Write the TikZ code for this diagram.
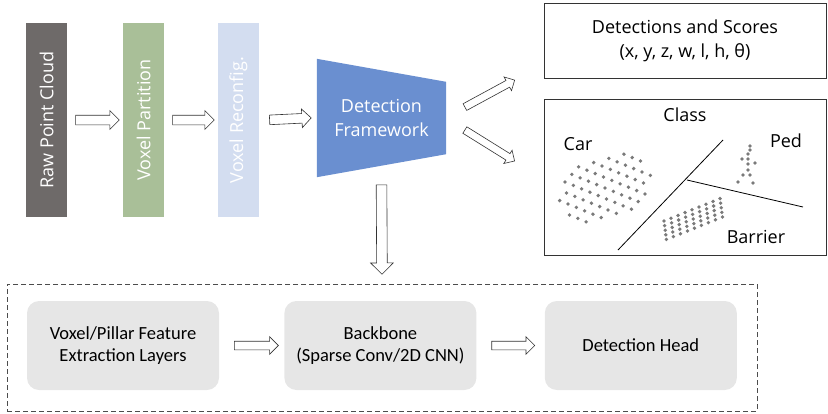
\documentclass[tikz,border=0pt]{standalone}
\usepackage{fontspec}
\setmainfont{Open Sans}
\newfontfamily\stagefont{Carlito}
\usetikzlibrary{positioning,calc,shapes.arrows,backgrounds}
\definecolor{rawCloud}{HTML}{6E6A69}
\definecolor{voxPart}{HTML}{A9BF98}
\definecolor{voxReconf}{HTML}{D3DDF0}
\definecolor{detFrame}{HTML}{6A8FD0}
\definecolor{stageFill}{HTML}{E6E6E6}
\definecolor{pointDot}{HTML}{7A7A7A}
\colorlet{edgeLine}{black!80}

% block arrow between two points
\newcommand\hollowarrow[3][]{%
  \path let \p1=#2, \p2=#3,
    \n1={atan2(\y2-\y1,\x2-\x1)},
    \n2={veclen(\x2-\x1,\y2-\y1)} in
    node[hollow arrow,minimum height=\n2,rotate=\n1,#1] at ($(\p1)!0.5!(\p2)$) {};}

\begin{document}
\begin{tikzpicture}[x=1pt,y=-1pt,
  every node/.style={font=\fontsize{18}{24}\selectfont},
  bar/.style={minimum width=41pt,minimum height=194pt,inner sep=0pt,text=white},
  hollow arrow/.style={single arrow,draw=edgeLine,fill=white,line width=0.6pt,
    inner xsep=0pt,inner ysep=4.5pt,single arrow head extend=4.5pt},
  panel/.style={draw=edgeLine,line width=0.8pt,minimum width=282pt,inner sep=0pt,align=center},
  stage/.style={fill=stageFill,rounded corners=12pt,minimum width=192pt,minimum height=89pt,
    align=center,font=\stagefont\fontsize{18.5}{22}\selectfont},
  dot/.style={fill=pointDot}
]
\useasboundingbox (0,0) rectangle (828,413);

% input stages
\node[bar,fill=rawCloud] (raw) at (46.5,120) {\rotatebox{90}{Raw Point Cloud}};
\node[bar,fill=voxPart] (part) at (143.5,120) {\rotatebox{90}{Voxel Partition}};
\node[bar,fill=voxReconf] (reconf) at (238.5,120) {\rotatebox{90}{Voxel Reconfig.}};

% detection framework
\node[minimum width=129pt,minimum height=118pt,text=white,align=center] (frame) at (381.5,118) {Detection\\Framework};
\begin{scope}[on background layer]
\fill[detFrame] (frame.north west) -- ([yshift=-23pt]frame.north east)
  -- ([yshift=23pt]frame.south east) -- (frame.south west) -- cycle;
\end{scope}

\hollowarrow{([xshift=6pt]raw.east)}{([xshift=-6pt]part.west)}
\hollowarrow{([xshift=6pt]part.east)}{([xshift=-6pt]reconf.west)}
\hollowarrow{([xshift=8pt]reconf.east)}{([xshift=-8pt]frame.west)}

% outputs
\node[panel,minimum height=75pt] (scores) at (685,40.5) {Detections and Scores\\(x, y, z, w, l, h, θ)};
\node[panel,minimum height=156pt] (cls) at (685,177) {};
\coordinate (toScores) at (513,81);
\coordinate (toClass) at (513,160);
\hollowarrow[inner ysep=3.5pt,single arrow head extend=4pt]{([shift={(17pt,10pt)}]frame.east)}{(toScores)}
\hollowarrow[inner ysep=3.5pt,single arrow head extend=4pt]{([shift={(17pt,-11pt)}]frame.east)}{(toClass)}

% class sketch
\node (car) at (578,144) {Car};
\node (class) at (685,115) {Class};
\node (ped) at (786,141) {Ped};
\node (barrier) at (756,237) {Barrier};
\draw[line width=0.8pt] (618,250) -- (723,140);
\draw[line width=0.8pt] (687,180) -- (803,207);
\foreach \i in {-6,...,6}
  \foreach \j in {-6,...,6}{
    \pgfmathsetmacro\s{8.3*\i+6.8*\j}
    \pgfmathsetmacro\t{3.4*\i-7.6*\j+0.25*\s}
    \pgfmathtruncatemacro\keep{(\s*\s/2116+\t*\t/1156)<=1}
    \ifnum\keep=1 \fill[dot] (605+8.3*\i+6.8*\j, 188+3.4*\i-7.6*\j) circle (1.9pt);\fi
  }
\foreach \i in {0,...,8}
  \foreach \j in {0,...,4}
    \fill[dot] (664+7*\i+0.6*\j, 221-2.8*\i+4.6*\j) circle (1.9pt);
\foreach \p in {(750,146),(750,150),(748,154),(742,159),(748,159),(755,163),
                (748,164),(748,170),(743,175),(750,175),(738,182),(753,183)}
  \fill[dot] \p circle (1.9pt);

% network pipeline
\node[draw=black!70,dash pattern=on 5pt off 3pt,line width=0.8pt,
  minimum width=750pt,minimum height=127pt] (pipe) at (382,347.5) {};
\hollowarrow[inner ysep=5pt,single arrow head extend=6pt]{([yshift=-5pt]frame.south)}{([yshift=12pt]pipe.north)}

\node[stage] (feat) at (123,345.5) {Voxel/Pillar Feature\\Extraction Layers};
\node[stage,right=65pt of feat] (bone) {Backbone\\(Sparse Conv/2D CNN)};
\node[stage,right=68pt of bone] (head) {Detection Head};
\hollowarrow[inner ysep=4pt]{([xshift=13pt]feat.east)}{([xshift=-8pt]bone.west)}
\hollowarrow[inner ysep=4pt]{([xshift=13pt]bone.east)}{([xshift=-12pt]head.west)}
\end{tikzpicture}
\end{document}
